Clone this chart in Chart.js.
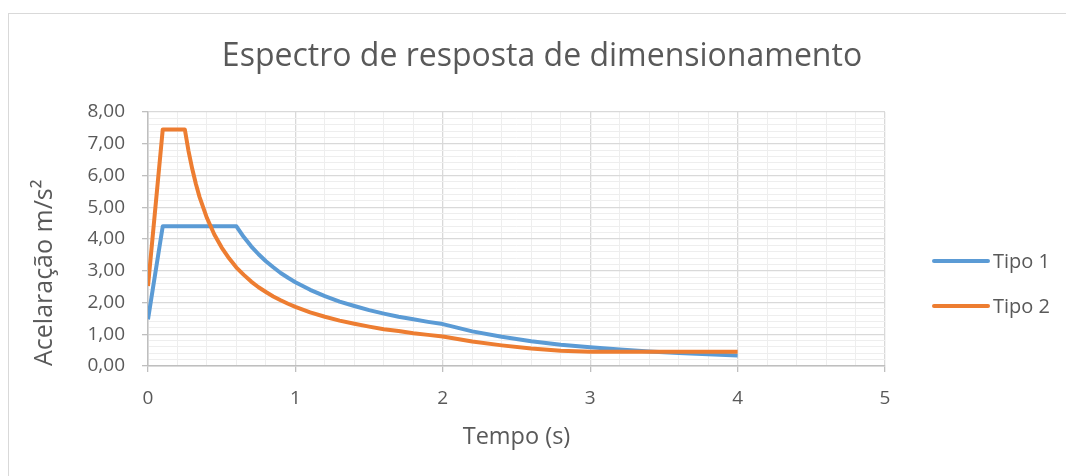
<!DOCTYPE html>
<html>
<head>
<meta charset="utf-8">
<title>Espectro de resposta de dimensionamento</title>
<script src="https://cdn.jsdelivr.net/npm/chart.js@4.4.1/dist/chart.umd.min.js"></script>
<style>
  html, body { margin: 0; padding: 0; background: #ffffff; overflow: hidden; }
  #frame {
    position: absolute; left: 8px; top: 13px; width: 1100px; height: 500px;
    border-top: 1px solid #d9d9d9; border-left: 1px solid #d9d9d9;
  }
  #wrap { position: absolute; left: 0; top: 0; width: 1066px; height: 476px; }
</style>
</head>
<body>
<div id="frame"></div>
<div id="wrap"><canvas id="spectrum"></canvas></div>
<script>
// Período T (s)
const periods = [0, 0.1, 0.15, 0.2, 0.25, 0.275, 0.3, 0.325, 0.35, 0.4, 0.45, 0.5, 0.55,
  0.6, 0.65, 0.7, 0.75, 0.8, 0.85, 0.9, 0.95, 1.0,
  1.1, 1.2, 1.3, 1.4, 1.5, 1.6, 1.7, 1.8, 1.9, 2.0,
  2.2, 2.4, 2.6, 2.8, 3.0, 3.2, 3.4, 3.6, 3.8, 4.0];

// Aceleração espectral (m/s²) – Tipo 1
const tipo1 = [1.47, 4.40, 4.40, 4.40, 4.40, 4.40, 4.40, 4.40, 4.40, 4.40, 4.40, 4.40, 4.40,
  4.40, 4.06, 3.77, 3.52, 3.30, 3.11, 2.93, 2.78, 2.64,
  2.40, 2.20, 2.03, 1.89, 1.76, 1.65, 1.55, 1.47, 1.39, 1.32,
  1.09, 0.92, 0.78, 0.67, 0.59, 0.52, 0.46, 0.41, 0.37, 0.33];

// Aceleração espectral (m/s²) – Tipo 2
const tipo2 = [2.52, 7.45, 7.45, 7.45, 7.45, 6.77, 6.21, 5.73, 5.32, 4.66, 4.14, 3.73, 3.39,
  3.10, 2.87, 2.66, 2.48, 2.33, 2.19, 2.07, 1.96, 1.86,
  1.69, 1.55, 1.43, 1.33, 1.24, 1.16, 1.10, 1.03, 0.98, 0.93,
  0.77, 0.65, 0.55, 0.48, 0.45, 0.45, 0.45, 0.45, 0.45, 0.45];

const seriesNames = ['Tipo 1', 'Tipo 2'];
const seriesColors = ['#5b9bd5', '#ed7d31'];

const xTickValues = [0, 1, 2, 3, 4, 5];
const yTickValues = [0, 1, 2, 3, 4, 5, 6, 7, 8];

const FONT = '"Open Sans", "Liberation Sans", sans-serif';
const TEXT = '#595959';

const isMajor = v => Math.abs(v - Math.round(v)) < 1e-6;

// Legend as a layout box on the right of the plot: one short line per series
const seriesKey = {
  id: 'seriesKey',
  beforeInit(chart, args, opts) {
    const box = {
      position: 'right',
      weight: 100,
      fullSize: false,
      options: { stackWeight: 1 },
      left: 0, top: 0, right: 0, bottom: 0, width: 0, height: 0,
      isHorizontal() { return false; },
      update(maxWidth, maxHeight) { this.width = opts.width; this.height = maxHeight; },
      getPadding() { return { left: 0, right: 0, top: 0, bottom: 0 }; },
      draw() {
        const ctx = chart.ctx;
        ctx.save();
        chart.data.datasets.forEach((ds, i) => {
          const x0 = this.left + opts.inset;
          const y = opts.top + i * opts.gap;
          ctx.strokeStyle = ds.borderColor;
          ctx.lineWidth = ds.borderWidth;
          ctx.lineCap = 'round';
          ctx.beginPath();
          ctx.moveTo(x0, y);
          ctx.lineTo(x0 + opts.length, y);
          ctx.stroke();
          ctx.fillStyle = TEXT;
          ctx.font = opts.font;
          ctx.textBaseline = 'middle';
          ctx.textAlign = 'left';
          ctx.fillText(ds.label, x0 + opts.length + opts.textGap, y + 1);
        });
        ctx.restore();
      }
    };
    Chart.layouts.addBox(chart, box);
  }
};

const toPoints = values => periods.map((t, i) => ({ x: t, y: values[i] }));

new Chart(document.getElementById('spectrum'), {
  type: 'scatter',
  data: {
    datasets: [
      {
        label: seriesNames[0],
        data: toPoints(tipo1),
        showLine: true,
        borderColor: seriesColors[0],
        backgroundColor: seriesColors[0],
        borderWidth: 4,
        borderJoinStyle: 'round',
        pointRadius: 0,
        tension: 0,
        order: 1
      },
      {
        label: seriesNames[1],
        data: toPoints(tipo2),
        showLine: true,
        borderColor: seriesColors[1],
        backgroundColor: seriesColors[1],
        borderWidth: 4,
        borderJoinStyle: 'round',
        pointRadius: 0,
        tension: 0,
        order: 0
      }
    ]
  },
  options: {
    responsive: true,
    maintainAspectRatio: false,
    animation: false,
    layout: { padding: { left: 18, right: 0, top: 0, bottom: 0 } },
    plugins: {
      legend: { display: false },
      tooltip: { enabled: false },
      title: {
        display: true,
        text: 'Espectro de resposta de dimensionamento',
        color: TEXT,
        font: { family: FONT, size: 32, weight: 'normal' },
        padding: { top: 38, bottom: 35.6 }
      },
      seriesKey: {
        width: 181, inset: 49, top: 261, gap: 45, length: 54, textGap: 5,
        font: '20px ' + FONT
      }
    },
    scales: {
      x: {
        type: 'linear',
        min: xTickValues[0],
        max: xTickValues[xTickValues.length - 1],
        afterFit: s => { s.height = 110; },
        border: { display: true, color: '#bfbfbf', width: 1.5 },
        grid: {
          color: c => isMajor(c.tick.value) ? '#d9d9d9' : '#eeeeee',
          lineWidth: c => isMajor(c.tick.value) ? 1.3 : 1,
          tickColor: c => isMajor(c.tick.value) ? '#bfbfbf' : 'rgba(0,0,0,0)',
          tickLength: 6,
          drawTicks: true
        },
        ticks: {
          stepSize: 0.2,
          autoSkip: false,
          maxRotation: 0,
          padding: 15,
          color: TEXT,
          font: { family: FONT, size: 19 },
          callback: v => (isMajor(v) && xTickValues.includes(Math.round(v))) ? String(Math.round(v)) : ''
        },
        title: {
          display: true,
          text: 'Tempo (s)',
          color: TEXT,
          font: { family: FONT, size: 23.5 },
          padding: { top: 0, bottom: 25 }
        }
      },
      y: {
        type: 'linear',
        min: yTickValues[0],
        max: yTickValues[yTickValues.length - 1],
        afterFit: s => { s.width = 130; },
        border: { display: true, color: '#bfbfbf', width: 1.5 },
        grid: {
          color: c => isMajor(c.tick.value) ? '#d9d9d9' : '#eeeeee',
          lineWidth: c => isMajor(c.tick.value) ? 1.3 : 1,
          tickColor: c => isMajor(c.tick.value) ? '#bfbfbf' : 'rgba(0,0,0,0)',
          tickLength: 6,
          drawTicks: true
        },
        ticks: {
          stepSize: 0.2,
          autoSkip: false,
          padding: 17,
          color: TEXT,
          font: { family: FONT, size: 19 },
          callback: v => (isMajor(v) && yTickValues.includes(Math.round(v)))
            ? Math.round(v).toFixed(2).replace('.', ',') : ''
        },
        title: {
          display: true,
          text: 'Acelaração m/s²',
          align: 'start',
          color: TEXT,
          font: { family: FONT, size: 25 },
          padding: { top: 12, bottom: 0 }
        }
      }
    }
  },
  plugins: [seriesKey]
});
</script>
</body>
</html>
